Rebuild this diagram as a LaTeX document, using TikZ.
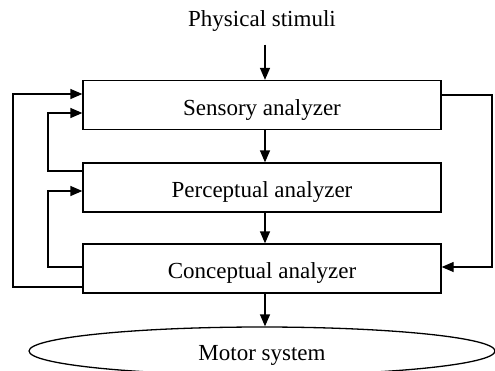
\documentclass[tikz,border=0pt]{standalone}
\usepackage{fontspec}
\setmainfont{Liberation Serif}
\usetikzlibrary{arrows.meta,shapes.geometric}
\begin{document}
\begin{tikzpicture}[x=1pt,y=-1pt,
  line width=1.3pt,
  arr/.style={-{Triangle[length=12pt,width=10pt]}},
  stage/.style={draw,rectangle,minimum width=358pt,minimum height=49pt,inner sep=0pt,
    text height=20pt,text depth=0pt,font=\fontsize{23}{26}\selectfont},
  lbl/.style={font=\fontsize{23}{26}\selectfont,inner sep=0pt,anchor=base}]
\useasboundingbox (0,0) rectangle (495,370);
% stages
\node[lbl] (stim) at (262,26) {Physical stimuli};
\node[stage] (S) at (262,105) {Sensory analyzer};
\node[stage] (P) at (262,187.5) {Perceptual analyzer};
\node[stage] (C) at (262,268.5) {Conceptual analyzer};
\node[draw,ellipse,minimum width=466pt,minimum height=48pt,inner sep=0pt] (M) at (262,351) {};
\node[lbl] (mlabel) at (262,360) {Motor system};
% forward path
\draw[arr] ([xshift=3pt,yshift=-13pt]stim.south) -- ([xshift=3pt]S.north);
\draw[arr] ([xshift=3pt]S.south) -- ([xshift=3pt]P.north);
\draw[arr] ([xshift=3pt]P.south) -- ([xshift=3pt]C.north);
\draw[arr] ([xshift=3pt]C.south) -- ([xshift=3pt]M.north);
% feedback loops
\draw[arr] ([yshift=-18.5pt]C.west) -| (13,200) |- ([yshift=11pt]S.west);
\draw[arr] ([yshift=16.5pt]P.west) -| (48,150) |- ([yshift=-8pt]S.west);
\draw[arr] ([yshift=1.5pt]C.west) -| (48,230) |- ([yshift=-3.5pt]P.west);
\draw[arr] ([yshift=10pt]S.east) -| (492,180) |- ([yshift=1.5pt]C.east);
\end{tikzpicture}
\end{document}
